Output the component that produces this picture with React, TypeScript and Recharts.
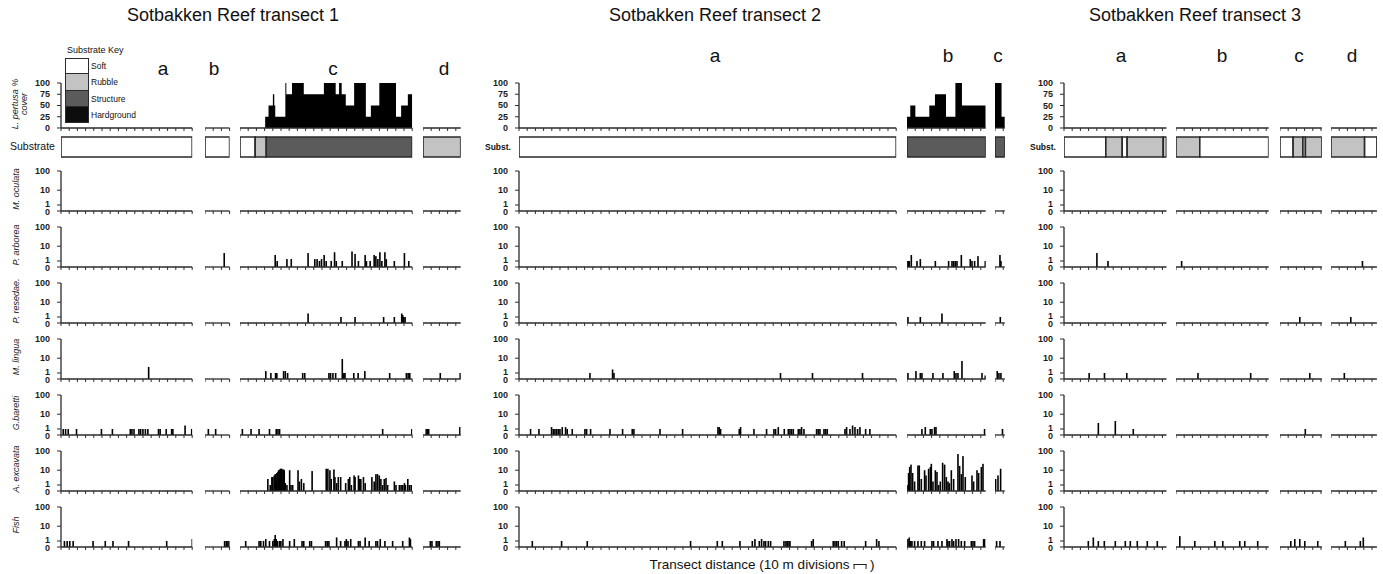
import React from 'react';
import { BarChart, Bar, AreaChart, Area, XAxis, YAxis } from 'recharts';

type Pt = [number, number];
type Run = [string, number];
type SegSpecies = Record<string, Pt[]>;

// ---------------- categories & tick labels ----------------
const TRANSECT_TITLES = ['Sotbakken Reef transect 1', 'Sotbakken Reef transect 2', 'Sotbakken Reef transect 3'];
const SPECIES_KEYS = ['moc', 'par', 'pre', 'mli', 'gba', 'aex', 'fish'];
const SPECIES_LABELS = ['M. oculata', 'P. arborea', 'P. resedae.', 'M. lingua', 'G.baretti', 'A. excavata', 'Fish'];
const SPECIES_TICK_LABELS = [0, 1, 10, 100];
const COVER_TICK_LABELS = [0, 25, 50, 75, 100];
const SUBSTRATE_TYPES = ['Soft', 'Rubble', 'Structure', 'Hardground'];
const SUBSTRATE_FILLS = ['#ffffff', '#c3c3c3', '#5b5b5b', '#0d0d0d'];

// ---------------- transect 1 ----------------
const T1_SEGMENTS = ['a', 'b', 'c', 'd'];
const T1_LENGTHS = [16, 3, 21, 4.6];
const T1_SUBSTRATE: Run[][] = [
  [['Soft', 16]],
  [['Soft', 3]],
  [['Soft', 1.85], ['Rubble', 1.35], ['Structure', 17.8]],
  [['Rubble', 4.6]],
];
const T1_COVER: Pt[][] = [
  [[0, 0], [16, 0]],
  [[0, 0], [3, 0]],
  [[0, 0], [3.07, 25], [3.48, 50], [4.01, 75], [4.18, 50], [4.3, 25], [5.53, 100], [5.65, 75], [6.34, 100], [7.78, 75],
   [10.23, 100], [11.67, 75], [12.08, 100], [12.4, 75], [12.9, 50], [13.92, 100], [15.35, 25], [15.96, 50], [16.99, 100],
   [19.03, 25], [19.65, 50], [20.47, 75], [21, 75]],
  [[0, 0], [4.6, 0]],
];
const T1A: SegSpecies = {
  mli: [[10.7, 3]],
  gba: [[0.28, 1], [0.57, 1], [0.89, 1], [1.9, 1], [4.94, 1], [6.28, 1], [8.46, 1], [8.66, 1], [8.91, 1], [9.51, 1], [9.72, 1],
        [10.0, 1], [10.3, 1], [10.6, 1], [11.9, 1], [12.1, 1], [12.84, 1], [13.5, 1], [13.65, 1], [15.14, 2], [15.95, 1]],
  fish: [[0.36, 1], [0.69, 1], [1.01, 1], [1.42, 1], [3.85, 1], [5.34, 1], [6.28, 1], [8.18, 1], [12.83, 1], [15.95, 1.5]],
};
const T1B: SegSpecies = {
  par: [[2.3, 4]],
  gba: [[0.38, 1], [1.27, 1]],
  fish: [[2.4, 1], [2.6, 1], [2.8, 1], [2.95, 1]],
};
const T1C: SegSpecies = {
  par: [[4.3, 3], [4.54, 1], [5.73, 1.5], [6.26, 1.5], [8.31, 4], [9.13, 1.5], [9.41, 1.5], [9.7, 1], [9.95, 1.5], [10.27, 3],
        [10.52, 1], [11.13, 1], [11.54, 4.5], [11.75, 1], [12.48, 1], [13.67, 5], [14.04, 3.5], [14.45, 1], [15.27, 3],
        [15.43, 1], [15.88, 1], [16.37, 3], [16.58, 2.5], [16.82, 1.5], [17.07, 4.5], [17.31, 1], [17.68, 4.5], [17.85, 1.5],
        [18.83, 1], [20.06, 4], [20.59, 1]],
  pre: [[8.31, 2], [12.32, 1], [14.04, 1], [17.52, 1], [18.83, 1], [19.73, 2], [19.85, 1.5], [19.98, 1], [20.14, 1]],
  mli: [[3.15, 1.5], [3.77, 1], [4.34, 1], [4.5, 1], [5.32, 1.5], [5.53, 1.5], [5.81, 1], [7.65, 1], [7.9, 1], [10.85, 1],
        [11.05, 1], [11.34, 1], [11.67, 1], [12.48, 9], [12.57, 1], [12.69, 1], [12.81, 1], [13.88, 1], [14.41, 1],
        [15.23, 1.5], [18.26, 1], [20.3, 1], [20.51, 1], [20.71, 1]],
  gba: [[0.29, 1], [1.35, 1], [2.33, 1], [3.6, 1], [4.42, 1], [4.63, 1], [4.83, 1], [17.4, 1], [20.96, 1]],
  aex: [[3.4, 3], [3.69, 1], [3.89, 4], [4.01, 4], [4.18, 5], [4.3, 6], [4.42, 2], [4.5, 7], [4.63, 8], [4.71, 10], [4.83, 10],
        [4.91, 12], [5.03, 12], [5.12, 12], [5.24, 10], [5.32, 11], [5.4, 10], [5.53, 1.5], [5.73, 1], [6.06, 10], [6.22, 1],
        [6.43, 1], [7.08, 10], [7.25, 2], [7.49, 3], [7.78, 1.5], [8.8, 9], [10.52, 12], [10.72, 12], [10.97, 10], [11.13, 3],
        [11.46, 11], [11.58, 4], [11.79, 1.5], [11.99, 4], [12.28, 4], [12.89, 1.5], [13.22, 3], [13.39, 4], [13.59, 1],
        [13.92, 5], [14.04, 4], [14.45, 5], [14.61, 3], [14.74, 3], [15.06, 4], [15.27, 1.5], [16.09, 4], [16.37, 2],
        [16.58, 6], [16.78, 6], [16.99, 5], [17.19, 3], [17.4, 1], [17.6, 3], [17.81, 3.5], [18.01, 1], [18.83, 2], [19.03, 1],
        [19.44, 1], [19.65, 1], [19.85, 1], [20.06, 1.5], [20.18, 1], [20.47, 3], [20.67, 1], [20.88, 1]],
  fish: [[0.7, 1], [2.33, 1], [2.54, 1], [2.87, 1], [3.15, 1.5], [3.6, 1], [4.01, 1], [4.18, 1.5], [4.3, 3], [4.42, 1.5],
         [4.58, 1], [4.83, 1], [4.99, 1], [5.24, 1.5], [6.06, 1], [6.63, 1.5], [7.57, 1], [7.78, 1], [8.51, 1], [8.72, 1],
         [10.44, 1], [10.64, 1], [10.85, 1], [11.79, 2], [12.28, 1], [12.81, 1], [12.98, 1.5], [13.18, 1], [13.51, 1.5],
         [14.45, 1], [14.65, 1], [15.27, 2], [15.76, 1], [16.58, 1], [16.78, 1], [17.11, 1.5], [17.68, 1], [18.62, 1],
         [19.85, 1], [20.67, 2], [20.79, 1.5]],
};
const T1D: SegSpecies = {
  mli: [[2.07, 1], [4.5, 1]],
  gba: [[0.4, 1], [0.5, 1], [0.6, 1], [0.7, 1], [4.5, 1.5]],
  fish: [[0.9, 1], [1.1, 1], [1.63, 1], [1.84, 1], [2.0, 1]],
};

// ---------------- transect 2 ----------------
const T2_SEGMENTS = ['a', 'b', 'c'];
const T2_LENGTHS = [46, 9.6, 1.2];
const T2_SUBSTRATE: Run[][] = [[['Soft', 46]], [['Structure', 9.6]], [['Structure', 1.2]]];
const T2_COVER: Pt[][] = [
  [[0, 0], [46, 0]],
  [[0, 25], [0.4, 50], [1.02, 25], [2.72, 50], [3.41, 75], [4.76, 25], [5.9, 100], [6.7, 50], [9.6, 50]],
  [[0, 100], [0.8, 25], [1.2, 25]],
];
const T2A: SegSpecies = {
  mli: [[8.66, 1], [11.42, 2], [11.59, 1], [31.9, 1], [35.8, 1], [41.9, 1]],
  gba: [[1.42, 1], [2.44, 1], [3.98, 1.5], [4.19, 1], [4.39, 1], [4.59, 1], [4.8, 1], [5.0, 1], [5.28, 1.5], [5.69, 1.5],
        [5.89, 1], [6.5, 1], [8.05, 1], [8.25, 1], [8.74, 1], [11.1, 1], [12.64, 1], [13.82, 1], [14.02, 1], [17.2, 1],
        [19.96, 1], [24.27, 1.5], [24.43, 1.5], [24.59, 1], [26.87, 1], [27.03, 1.5], [28.66, 1], [30.2, 1], [31.1, 1],
        [31.3, 1], [31.63, 1.5], [32.36, 1], [32.85, 1], [33.05, 1], [33.25, 1], [33.46, 1], [34.07, 1], [34.27, 1],
        [34.47, 1.5], [34.76, 1], [36.3, 1], [36.5, 1], [36.71, 1], [37.2, 1], [37.4, 1], [37.6, 1], [39.76, 1],
        [39.96, 1.5], [40.37, 1], [40.69, 2], [40.98, 1.5], [41.3, 1], [41.59, 1.5], [42.28, 1], [42.8, 1]],
  fish: [[1.63, 1], [5.2, 1], [8.33, 1], [20.93, 1], [24.19, 1], [24.8, 1], [26.95, 1], [28.46, 1], [28.78, 1.5], [29.31, 1],
         [29.59, 1.5], [29.88, 1], [30.08, 1], [30.41, 1], [30.69, 1], [32.32, 1], [32.56, 1], [32.72, 1], [32.93, 1],
         [33.05, 1], [35.69, 1], [35.89, 1.5], [38.33, 1], [38.54, 1], [38.74, 1], [38.94, 1], [39.35, 1], [39.67, 1],
         [42.28, 1], [43.62, 1.5], [43.9, 1]],
};
const T2B: SegSpecies = {
  par: [[0.12, 1], [0.2, 1], [0.28, 1], [0.53, 3], [1.22, 1], [1.63, 1.5], [3.46, 1], [5.08, 1], [5.49, 1], [5.69, 1],
        [5.89, 1], [6.1, 1], [6.63, 3], [7.72, 1.5], [7.93, 1], [8.25, 1], [8.66, 2.5], [9.55, 1]],
  pre: [[0.12, 1], [1.63, 1], [4.27, 2]],
  mli: [[0.12, 1], [1.1, 1.5], [1.63, 1], [1.83, 1], [3.17, 1], [4.39, 1], [5.77, 1.5], [5.98, 1], [6.22, 1], [6.71, 7],
        [9.15, 1], [9.55, 0.5]],
  gba: [[1.83, 1], [2.24, 1.5], [2.85, 1], [3.05, 1], [3.37, 1.5], [3.54, 1.5], [9.47, 1]],
  aex: [[0.12, 1], [0.2, 7], [0.33, 15], [0.49, 20], [0.69, 7], [0.93, 2], [1.34, 18], [1.5, 18], [1.75, 3], [2.15, 10],
        [2.32, 5], [2.64, 12], [2.85, 15], [2.97, 22], [3.17, 2], [3.46, 10], [3.66, 8], [3.86, 1], [4.07, 2], [4.35, 25],
        [4.59, 20], [4.8, 4], [5.0, 2], [5.16, 1.5], [5.41, 10], [5.69, 3], [6.22, 70], [6.42, 17], [6.63, 6], [6.83, 55],
        [7.11, 4], [7.93, 5], [8.13, 2], [8.54, 10], [8.74, 7], [9.07, 15], [9.27, 22]],
  fish: [[0.12, 1.5], [0.28, 2], [0.45, 1], [0.61, 1], [0.93, 1], [1.34, 1], [1.75, 1], [2.15, 1], [3.05, 1], [3.25, 1],
         [3.78, 1], [4.27, 1], [4.88, 1.5], [5.0, 1], [5.2, 1], [5.49, 1.5], [5.69, 1], [5.98, 1.5], [6.3, 1.5], [6.63, 1],
         [7.03, 1], [7.85, 1], [8.05, 1], [8.25, 1], [9.35, 1.5], [9.47, 1.5]],
};
const T2C: SegSpecies = {
  par: [[0.61, 3], [0.73, 1]],
  pre: [[0.61, 1]],
  mli: [[0.28, 1.5], [0.49, 1], [0.73, 1]],
  gba: [[0.9, 1]],
  aex: [[0.08, 3], [0.37, 5], [0.69, 12]],
  fish: [[0.2, 1], [0.61, 1]],
};

// ---------------- transect 3 ----------------
const T3_SEGMENTS = ['a', 'b', 'c', 'd'];
const T3_LENGTHS = [12.5, 11.3, 5.1, 5.6];
const T3_SUBSTRATE: Run[][] = [
  [['Soft', 5.1], ['Rubble', 2.0], ['Soft', 0.6], ['Rubble', 4.4], ['Rubble', 0.4]],
  [['Rubble', 2.9], ['Soft', 8.4]],
  [['Soft', 1.6], ['Rubble', 1.2], ['Soft', 0.3], ['Rubble', 2.0]],
  [['Rubble', 4.1], ['Soft', 1.5]],
];
const T3_COVER: Pt[][] = [
  [[0, 0], [12.5, 0]],
  [[0, 0], [11.3, 0]],
  [[0, 0], [5.1, 0]],
  [[0, 0], [5.6, 0]],
];
const T3A: SegSpecies = {
  par: [[3.98, 4], [5.33, 1]],
  mli: [[3.05, 1], [4.92, 1], [7.64, 1]],
  gba: [[4.15, 3], [6.22, 4], [8.41, 1]],
  fish: [[2.93, 1], [3.54, 2], [4.15, 1], [4.88, 1], [6.22, 1], [7.44, 1], [8.05, 1], [8.9, 1], [10.12, 1], [11.34, 1]],
};
const T3B: SegSpecies = {
  par: [[0.69, 1]],
  mli: [[2.72, 1], [9.15, 1]],
  fish: [[0.49, 2.5], [2.32, 1], [4.76, 1], [5.73, 1], [7.8, 1], [8.41, 1], [9.99, 1]],
};
const T3C: SegSpecies = {
  pre: [[2.44, 1]],
  mli: [[3.66, 1]],
  gba: [[3.05, 1]],
  fish: [[1.34, 1], [1.83, 1.5], [2.44, 1.5], [3.05, 1], [4.63, 1]],
};
const T3D: SegSpecies = {
  par: [[3.82, 1]],
  pre: [[2.44, 1]],
  mli: [[1.59, 1]],
  fish: [[1.71, 1], [3.54, 1], [3.9, 2]],
};

// ---------------- layout (pixels) ----------------
const FONT = '"Liberation Sans", Arial, Helvetica, sans-serif';
const AXIS_COLOR = '#2b2b2b';
const BAR_COLOR = '#000000';
const BAR_W = 1.6;
const PX = 8.2; // px per 10 m division
const YW = 40; // y-axis width
const MT = 9; // chart top margin
const XH = 5; // x-axis height
const COVER_TOP = 83;
const COVER_H = 45;
const SUB_TOP = 137;
const SUB_H = 20;
const ROW_BASE0 = 211;
const ROW_PITCH = 56;
const ROW_H = 40;

const TRANSECTS = [
  { segs: T1_SEGMENTS, lengths: T1_LENGTHS, substrate: T1_SUBSTRATE, cover: T1_COVER, species: [T1A, T1B, T1C, T1D],
    segX: [61, 205, 240, 423], titleX: 233, letterX: [163, 214, 333, 444], letterY: 58, substLabel: 'Substrate' },
  { segs: T2_SEGMENTS, lengths: T2_LENGTHS, substrate: T2_SUBSTRATE, cover: T2_COVER, species: [T2A, T2B, T2C],
    segX: [519, 907, 995], titleX: 715, letterX: [715, 948, 998], letterY: 45, substLabel: 'Subst.' },
  { segs: T3_SEGMENTS, lengths: T3_LENGTHS, substrate: T3_SUBSTRATE, cover: T3_COVER, species: [T3A, T3B, T3C, T3D],
    segX: [1064, 1176, 1280, 1331], titleX: 1195, letterX: [1121, 1222, 1299, 1352], letterY: 45, substLabel: 'Subst.' },
];

const LOG_MAX = Math.log10(101);
const tr = (v: number) => Math.log10(v + 1);
const ticksFor = (L: number) => Array.from({ length: Math.floor(L + 1e-9) + 1 }, (_, i) => i);
const NoTick = () => <g />;

const tickTextStyle = { fontSize: 9, fontWeight: 700, fill: '#1c1c1c', fontFamily: FONT };

function SpeciesTick(props: any) {
  const { x, y, payload } = props;
  const label = Math.round(Math.pow(10, payload.value) - 1);
  const dy = label === 0 ? 1.2 : label === 1 ? -1.3 : 0;
  return (
    <text x={x} y={y + dy} textAnchor="end" dominantBaseline="central" style={tickTextStyle}>{label}</text>
  );
}

function CoverTick(props: any) {
  const { x, y, payload } = props;
  return (
    <text x={x} y={y} textAnchor="end" dominantBaseline="central" style={tickTextStyle}>{payload.value}</text>
  );
}

// fixed-width thin bar centred on the position the library computed
function ThinBar(props: any) {
  const { x, y, width, height } = props;
  if (!height || height <= 0) return <g />;
  return <rect x={x + width / 2 - BAR_W / 2} y={y} width={BAR_W} height={height} fill={BAR_COLOR} />;
}

function XAx({ L }: { L: number }) {
  return (
    <XAxis type="number" dataKey="p" domain={[0, L]} ticks={ticksFor(L)} interval={0} allowDataOverflow
      height={XH} tickSize={3} tick={NoTick} tickLine={{ stroke: AXIS_COLOR, strokeWidth: 1 }}
      axisLine={{ stroke: AXIS_COLOR, strokeWidth: 1.3 }} />
  );
}

function SpeciesChart({ x, base, L, points, showY }: { x: number; base: number; L: number; points: Pt[]; showY: boolean }) {
  const data = [{ p: 0, y: 0 }, ...points.map(([p, v]) => ({ p, y: tr(v) }))];
  const yw = showY ? YW : 0;
  return (
    <div style={{ position: 'absolute', left: x - yw, top: base - ROW_H - MT }}>
      <BarChart width={L * PX + yw + 2} height={MT + ROW_H + XH} data={data}
        margin={{ top: MT, right: 2, left: 0, bottom: 0 }}>
        {XAx({ L })}
        <YAxis type="number" domain={[0, LOG_MAX]} allowDataOverflow hide={!showY}
          ticks={SPECIES_TICK_LABELS.map(tr)} interval={0}
          width={YW} tickSize={4} tickMargin={7} tick={SpeciesTick}
          tickLine={{ stroke: AXIS_COLOR }} axisLine={{ stroke: AXIS_COLOR, strokeWidth: 1.3 }} />
        <Bar dataKey="y" fill={BAR_COLOR} barSize={BAR_W} shape={ThinBar} isAnimationActive={false} />
      </BarChart>
    </div>
  );
}

function CoverChart({ x, L, steps, showY }: { x: number; L: number; steps: Pt[]; showY: boolean }) {
  const data = steps.map(([p, v]) => ({ p, v }));
  const yw = showY ? YW : 0;
  return (
    <div style={{ position: 'absolute', left: x - yw, top: COVER_TOP - MT }}>
      <AreaChart width={L * PX + yw + 2} height={MT + COVER_H + XH} data={data}
        margin={{ top: MT, right: 2, left: 0, bottom: 0 }}>
        {XAx({ L })}
        <YAxis type="number" domain={[0, 100]} hide={!showY} ticks={COVER_TICK_LABELS} interval={0}
          width={YW} tickSize={4} tickMargin={7} tick={CoverTick}
          tickLine={{ stroke: AXIS_COLOR }} axisLine={{ stroke: AXIS_COLOR, strokeWidth: 1.3 }} />
        <Area type="stepAfter" dataKey="v" fill="#000" fillOpacity={1} stroke="none" baseValue={0}
          isAnimationActive={false} dot={false} activeDot={false} />
      </AreaChart>
    </div>
  );
}

function SubstrateChart({ x, L, runs }: { x: number; L: number; runs: Run[] }) {
  const row: Record<string, number | string> = { n: 's' };
  runs.forEach((r, i) => { row['r' + i] = r[1]; });
  return (
    <div style={{ position: 'absolute', left: x - 1, top: SUB_TOP - 1 }}>
      <BarChart layout="vertical" width={L * PX + 2} height={SUB_H + 2} data={[row]}
        margin={{ top: 1, right: 1, left: 1, bottom: 1 }} barCategoryGap={0} barGap={0}>
        <XAxis type="number" domain={[0, L]} hide allowDataOverflow />
        <YAxis type="category" dataKey="n" hide />
        {runs.map((r, i) => (
          <Bar key={i} dataKey={'r' + i} stackId="s" fill={SUBSTRATE_FILLS[SUBSTRATE_TYPES.indexOf(r[0])]}
            stroke="#2a2a2a" strokeWidth={1.6} isAnimationActive={false} />
        ))}
      </BarChart>
    </div>
  );
}

const abs = (left: number, top: number, extra: React.CSSProperties = {}): React.CSSProperties => ({
  position: 'absolute', left, top, whiteSpace: 'nowrap', ...extra,
});

function RotLabel({ cx, cy, children, size = 9 }: { cx: number; cy: number; children: React.ReactNode; size?: number }) {
  return (
    <div style={abs(cx, cy, { transform: 'translate(-50%, -50%) rotate(-90deg)', fontSize: size, fontStyle: 'italic',
      textAlign: 'center', lineHeight: '9px', color: '#222' })}>{children}</div>
  );
}

export default function App() {
  return (
    <div style={{ position: 'absolute', left: 0, top: 0, width: 1383, height: 574, background: '#fff', fontFamily: FONT,
      overflow: 'hidden', color: '#111' }}>
      {TRANSECTS.map((t, ti) => (
        <React.Fragment key={ti}>
          <div style={abs(t.titleX, 5, { transform: 'translateX(-50%)', fontSize: 18 })}>{TRANSECT_TITLES[ti]}</div>
          {t.segs.map((s, si) => (
            <div key={'l' + si} style={abs(t.letterX[si], t.letterY, { transform: 'translateX(-50%)', fontSize: 19 })}>{s}</div>
          ))}
          {t.segs.map((s, si) => (
            <CoverChart key={'c' + si} x={t.segX[si]} L={t.lengths[si]} steps={t.cover[si]} showY={si === 0} />
          ))}
          {t.segs.map((s, si) => (
            <SubstrateChart key={'s' + si} x={t.segX[si]} L={t.lengths[si]} runs={t.substrate[si]} />
          ))}
          {SPECIES_KEYS.map((k, ki) =>
            t.segs.map((s, si) => (
              <SpeciesChart key={k + si} x={t.segX[si]} base={ROW_BASE0 + ROW_PITCH * ki} L={t.lengths[si]}
                points={t.species[si][k] || []} showY={si === 0} />
            ))
          )}
          {ti === 0 ? (
            <div style={abs(10, SUB_TOP + 3, { fontSize: 10.5 })}>{t.substLabel}</div>
          ) : (
            <div style={abs(t.segX[0] - 34, SUB_TOP + 5, { fontSize: 8.5, fontWeight: 700 })}>{t.substLabel}</div>
          )}
        </React.Fragment>
      ))}

      {/* species labels for transect 1 */}
      {SPECIES_LABELS.map((lab, i) => (
        <RotLabel key={lab} cx={16} cy={ROW_BASE0 + ROW_PITCH * i - 22}>{lab}</RotLabel>
      ))}
      <RotLabel cx={20} cy={104}><span>L. pertusa %</span><br /><span>cover</span></RotLabel>

      {/* substrate key */}
      <div style={abs(67, 45, { fontSize: 9 })}>Substrate Key</div>
      {SUBSTRATE_TYPES.map((st, i) => (
        <React.Fragment key={st}>
          <div style={abs(65, 58 + i * 16.3, { width: 24, height: 16.3, background: SUBSTRATE_FILLS[i],
            borderLeft: '1.5px solid #2a2a2a', borderRight: '1.5px solid #2a2a2a',
            borderTop: i === 0 ? '1.5px solid #2a2a2a' : 'none', borderBottom: '1.5px solid #2a2a2a', boxSizing: 'border-box' })} />
          <div style={abs(91, 61 + i * 16.3, { fontSize: 8.5 })}>{st}</div>
        </React.Fragment>
      ))}

      {/* x-axis title */}
      <div style={abs(762, 557, { transform: 'translateX(-50%)', fontSize: 13.5 })}>
        Transect distance (10 m divisions{' '}
        <span style={{ display: 'inline-block', width: 11, height: 4, borderTop: '1.3px solid #222',
          borderLeft: '1.3px solid #222', borderRight: '1.3px solid #222', verticalAlign: 'middle', marginBottom: -2 }} />
        {' '})
      </div>
    </div>
  );
}
